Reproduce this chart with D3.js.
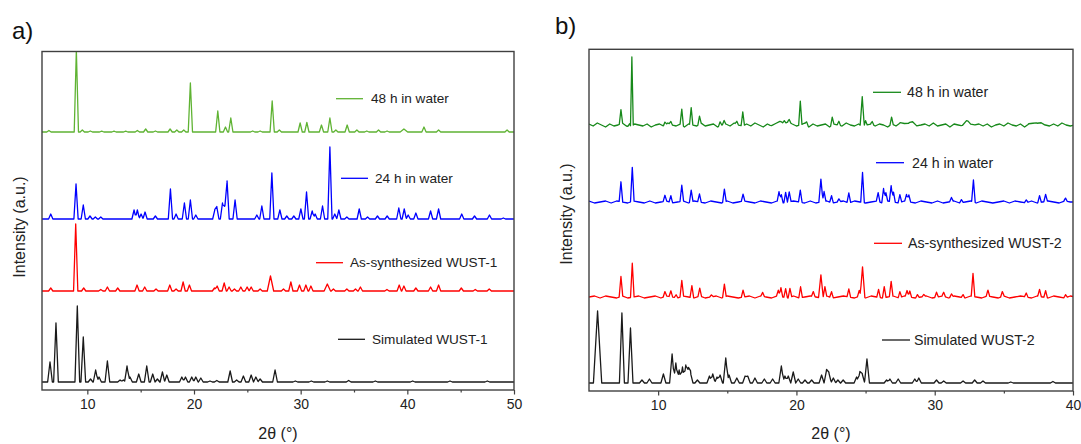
<!DOCTYPE html>
<html><head><meta charset="utf-8">
<script src="https://cdn.jsdelivr.net/npm/d3@7"></script>
<style>
html,body{margin:0;padding:0;background:#fff;}
svg{display:block;font-family:"Liberation Sans",Arial,Helvetica,sans-serif;}
</style></head><body>
<svg id="chart" width="1081" height="444"></svg>
<script>
// ---------------- data ----------------
const ticksA = [10, 20, 30, 40, 50];
const minorTicksA = [15, 25, 35, 45];
const ticksB = [10, 20, 30, 40];
const minorTicksB = [15, 25, 35];

const namesA = ["48 h in water", "24 h in water", "As-synthesized WUST-1", "Simulated WUST-1"];
const namesB = ["48 h in water", "24 h in water", "As-synthesized WUST-2", "Simulated WUST-2"];

// vertical stacking offset of each pattern (a.u.)
const offsetsA = [258, 171, 99, 8];
const offsetsB = [266, 189, 94, 8];

// reflections: [2θ, intensity, optional half-width in degrees]
const peaksA48 = [[6.4,1.5],[8.97,82],[9.53,2],[10.28,1],[11.35,0.8],[12.5,0.8],[13.6,0.8],[14.69,1.5],[15.47,3],[16.38,1],
  [17.76,3],[18.39,2],[19.04,2],[19.66,49],[22.23,21],[22.95,5],[23.45,14],[25.5,1],[26.2,1],[27.33,31],[28.0,2],
  [29.95,9],[30.58,9.5],[31.95,7],[32.74,14],[33.3,2],[34.36,7],[35.27,2],[36.2,1],[37.3,2],[38.1,1],[39.68,3,0.35],
  [41.56,5],[42.93,2],[49.35,2]];
const peaksA24 = [[6.57,5],[8.94,35],[9.62,14],[10.25,3],[10.75,2],[11.26,2],[14.38,9],[14.69,9],[15.04,5],[15.41,7],
  [16.38,3],[17.79,30],[18.32,5],[19.1,16],[19.66,19],[20.17,4],[21.95,9],[22.14,12],[22.67,16],[22.89,14],[23.1,38],
  [23.85,19],[25.89,4],[26.36,13],[27.3,46],[28.05,9],[28.7,3],[29.36,3],[30.02,10],[30.55,27],[31.08,8],[31.36,5],
  [32.05,13],[32.74,72],[33.2,5],[33.58,9],[34.33,2],[35.49,10],[36.27,2],[37.2,3],[38.11,3],[39.2,11],[39.71,10],
  [40.08,4],[40.8,6],[42.18,8],[42.93,10],[45.1,5],[46.3,3],[47.7,4],[49.0,1]];
const peaksA1 = [[6.57,3],[8.91,67],[9.66,3],[11.26,1.5],[11.88,4],[12.85,3],[14.66,6],[15.38,4],[16.44,2],[17.73,6],
  [18.32,2],[18.98,9],[19.57,6],[21.92,3],[22.17,5],[22.83,8],[23.29,4],[23.79,2],[24.39,4],[24.98,4],[25.36,4],
  [26.2,2],[27.17,15,0.3],[28.39,2],[29.08,9],[29.89,6],[30.49,6],[30.96,5],[32.5,7,0.3],[33.07,2],[34.33,2],[35.14,2],
  [35.6,4],[38.09,1.5],[39.24,6],[39.68,5],[40.8,3],[42.18,4],[42.93,6],[45.06,3],[46.37,1.5],[47.68,2]];
const peaksASim = [[6.5,20],[7.06,59],[9.06,76],[9.62,45],[10.3,3],[10.78,12],[11.1,5],[11.88,21],[13.07,2],[13.38,2],
  [13.72,16],[14.0,5],[14.82,8],[15.57,16],[16.13,8],[16.57,3],[17.04,10],[17.45,7],[18.86,5],[19.2,5],[19.79,5],
  [20.17,5],[20.64,4],[21.5,1],[22.14,1.5],[23.39,11],[24.0,2],[24.63,6],[25.36,7],[25.8,5],[26.2,3],[27.6,12],
  [29.5,1],[31.0,1],[32.5,1],[34.5,1.5],[37.0,1],[40.5,1],[44.0,1],[47.5,1]];

const peaksB48 = [[7.31,14],[7.93,3],[8.1,69,0.1],[10.49,3],[10.92,3],[11.71,16],[12.39,17],[12.99,8],[14.48,4],[14.77,4],
  [15.69,3],[16.12,14],[18.9,3,0.8],[19.12,3],[19.48,3],[20.28,24],[20.74,3],[22.59,8],[23.07,4],[24.76,30,0.15],[25.0,5],
  [25.48,3],[26.88,7],[28.2,3,0.8],[32.41,3,0.5],[37.35,3,0.6]];
const peaksB24 = [[7.31,20],[8.13,34],[10.49,6],[10.92,7],[11.71,16],[12.39,12],[12.99,8],[14.79,13],[16.14,7],
  [18.74,10],[18.91,8],[19.22,10],[19.48,10],[20.28,12],[21.77,23,0.15],[22.0,10],[22.54,7],[23.07,3],[23.79,10],
  [24.78,30],[25.91,9],[26.3,14],[26.47,9],[26.85,16],[27.02,10],[27.48,8],[27.96,7],[28.13,7],[31.21,4],[31.93,3],
  [32.8,22],[36.62,3],[37.58,7],[38.02,7],[39.46,3]];
const peaksB2 = [[7.31,20],[8.13,34],[10.49,5],[10.92,6],[11.3,3],[11.71,16],[12.44,12],[13.01,8],[13.85,2],[14.79,13],
  [16.14,7],[17.56,4],[18.69,6],[18.88,9],[19.22,9],[19.53,9],[20.3,11],[21.22,5],[21.77,23,0.17],[22.06,10],[22.54,6],
  [23.79,8],[24.54,6],[24.78,30,0.17],[25.94,8],[26.35,11],[26.85,15],[27.48,6],[28.0,6],[28.2,6],[28.75,3],[29.21,2],
  [30.13,5],[30.65,4],[31.21,3],[32.05,3],[32.77,23],[33.85,6],[34.89,5],[36.62,4],[37.58,7],[38.02,7],[39.46,3]];
const peaksBSim = [[5.62,72,0.3],[7.38,70],[8.0,55],[8.83,3],[9.37,4],[10.38,9],[11.01,29],[11.28,20],[11.52,13],
  [11.76,16],[12.0,18],[12.19,14],[12.34,10],[12.84,3],[13.71,7],[13.95,9],[14.26,6],[14.48,8],[14.89,25],[15.13,8],
  [15.69,5],[16.29,7],[16.48,7],[17.0,5],[17.68,4],[18.28,4],[18.91,17],[19.17,7],[19.41,7],[19.77,11],[20.13,4],
  [20.62,3],[21.1,3],[21.82,8],[22.18,13],[22.35,10],[22.67,5],[23.0,3],[23.38,3],[24.35,6],[24.59,11],[24.76,9],
  [25.1,24],[26.52,3],[26.76,4],[27.36,4],[28.56,4],[28.85,5],[30.13,3],[30.65,2],[32.05,2],[32.89,3],[33.49,2],
  [35.5,1],[38.55,1.5]];

// measured background scatter, regularly sampled from 5° (step in degrees)
const noiseStepB48 = 0.3;
const noiseB48 = [1,-1,2,0,-2,1,-1,0,2,-1, -2,1,0,-1,1,-2,0,1,-1,2, 0,-1,1,-2,1,0,-1,2,-1,0,
  1,-2,0,1,-1,2,0,-1,1,-1, 2,0,-2,1,-1,0,1,-1,2,1, -1,0,2,-2,1,-1,0,1,-2,1,
  0,-1,2,0,-1,1,-2,0,1,-1, 1,0,-2,1,-1,2,0,-1,1,-2, 0,1,-1,2,-1,0,1,-2,1,0,
  -1,2,-1,0,1,-1,1,-2,0,1, -1,2,0,-1,1,-2,1,0,-1,1, 0,-1,1,-1,2,0,-1];
const noiseStepB24 = 0.4;
const noiseB24 = [1,-1,0,1,-1,1,0,-1,1,0, -1,1,-1,0,1,-1,0,1,-1,1, 0,-1,1,0,-1,1,-1,0,1,0,
  -1,1,0,-1,1,-1,0,1,0,-1, 1,-1,0,1,-1,0,1,-1,1,0, -1,0,1,-1,1,0,-1,1,0,-1,
  1,0,-1,1,-1,0,1,-1,0,1, -1,1,0,-1,0,1,-1,1,0,-1, 1,-1,0,1,0,-1,1,0];
const noiseStepB2 = 0.4;
const noiseB2 = [0,1,-1,1,0,-1,1,-1,0,1, -1,0,1,-1,1,0,-1,1,0,-1, 1,-1,0,1,-1,1,0,-1,0,1,
  -1,1,0,-1,1,0,-1,1,-1,0, 1,0,-1,1,-1,0,1,0,-1,1, -1,1,0,-1,0,1,-1,1,0,-1,
  0,1,-1,0,1,-1,1,0,-1,1, 0,-1,1,0,-1,1,-1,0,1,0, -1,1,0,-1,1,0,-1,1];

// ---------------- layout ----------------
const colorsA = ["#5fb333", "#0000ff", "#ff0000", "#1a1a1a"];
const colorsB = ["#17891a", "#0000ff", "#ff0000", "#1a1a1a"];

const panels = [
  {
    tag: "a)", tagX: 12, tagY: 39,
    frame: {left: 42, right: 514, top: 51.5, bottom: 390},
    xDomain: [5.75, 50], yMax: 338.5,
    ticks: ticksA, minor: minorTicksA,
    yLabelX: 25, yLabelY: 227,
    names: namesA, colors: colorsA, offsets: offsetsA,
    halfWidths: [0.2, 0.2, 0.2, 0.22],
    peaks: [peaksA48, peaksA24, peaksA1, peaksASim],
    noise: [null, null, null, null],
    fontSize: 13.6,
    legend: [{x1: 336, x2: 363, y: 98.7, tx: 371}, {x1: 341, x2: 368, y: 178.3, tx: 375},
             {x1: 316, x2: 343, y: 262.7, tx: 350}, {x1: 338, x2: 365, y: 339.3, tx: 372}]
  },
  {
    tag: "b)", tagX: 555, tagY: 34,
    frame: {left: 589, right: 1073, top: 49.3, bottom: 391},
    xDomain: [5, 40], yMax: 341.7,
    ticks: ticksB, minor: minorTicksB,
    yLabelX: 572, yLabelY: 214,
    names: namesB, colors: colorsB, offsets: offsetsB,
    halfWidths: [0.12, 0.13, 0.13, 0.18],
    peaks: [peaksB48, peaksB24, peaksB2, peaksBSim],
    noise: [{vals: noiseB48, step: noiseStepB48}, {vals: noiseB24, step: noiseStepB24},
            {vals: noiseB2, step: noiseStepB2}, null],
    fontSize: 14.2,
    legend: [{x1: 873, x2: 901, y: 92.3, tx: 907}, {x1: 876, x2: 904, y: 162.7, tx: 912},
             {x1: 874, x2: 902, y: 243.3, tx: 908}, {x1: 882, x2: 910, y: 340, tx: 914}]
  }
];

const svg = d3.select("#chart");
svg.append("rect").attr("width", 1081).attr("height", 444).attr("fill", "#fff");

// Pattern vertices: every reflection's foot and apex plus the background samples.
// Each reflection is a narrow triangular profile; overlapping ones add up.
function pattern(peaks, hw, noise, domain, offset) {
  const shapes = peaks.map(p => ({c: p[0], h: p[1], w: p[2] || hw}));
  if (noise) noise.vals.forEach((v, i) => shapes.push({c: domain[0] + i * noise.step, h: v, w: noise.step}));
  const xs = new Set(domain);
  shapes.forEach(s => { xs.add(s.c - s.w); xs.add(s.c); xs.add(s.c + s.w); });
  return [...xs].filter(x => x >= domain[0] && x <= domain[1]).sort((a, b) => a - b)
    .map(x => [x, offset + d3.sum(shapes, s => Math.max(0, 1 - Math.abs(x - s.c) / s.w) * s.h)]);
}

panels.forEach((p, pi) => {
  const f = p.frame;
  const x = d3.scaleLinear().domain(p.xDomain).range([f.left, f.right]);
  const y = d3.scaleLinear().domain([0, p.yMax]).range([f.bottom, f.top]);
  const g = svg.append("g");

  const clipId = "clip" + pi;
  svg.append("clipPath").attr("id", clipId).append("rect")
    .attr("x", f.left).attr("y", f.top).attr("width", f.right - f.left).attr("height", f.bottom - f.top);

  const line = d3.line().x(d => x(d[0])).y(d => y(d[1]));
  p.peaks.forEach((pk, i) => {
    g.append("path")
      .attr("d", line(pattern(pk, p.halfWidths[i], p.noise[i], p.xDomain, p.offsets[i])))
      .attr("fill", "none").attr("stroke", p.colors[i]).attr("stroke-width", 1.3)
      .attr("stroke-linejoin", "round").attr("clip-path", `url(#${clipId})`);
  });

  // bottom axis: labelled major ticks and short minor ticks
  const ax = g.append("g").attr("transform", `translate(0,${f.bottom})`)
    .call(d3.axisBottom(x).tickValues(p.ticks).tickSize(4.5).tickSizeOuter(0).tickPadding(5).tickFormat(d3.format("d")));
  ax.select(".domain").remove();
  ax.selectAll(".tick line").attr("stroke", "#404040").attr("stroke-width", 1.2);
  ax.selectAll(".tick text").attr("font-size", 14).attr("fill", "#222")
    .attr("font-family", '"Liberation Sans",Arial,sans-serif');
  const mx = g.append("g").attr("transform", `translate(0,${f.bottom})`)
    .call(d3.axisBottom(x).tickValues(p.minor).tickSize(2.5).tickSizeOuter(0).tickFormat(""));
  mx.select(".domain").remove();
  mx.selectAll(".tick line").attr("stroke", "#404040").attr("stroke-width", 1.2);

  // frame
  g.append("rect").attr("x", f.left).attr("y", f.top)
    .attr("width", f.right - f.left).attr("height", f.bottom - f.top)
    .attr("fill", "none").attr("stroke", "#404040").attr("stroke-width", 1.4);

  // axis titles
  g.append("text").attr("x", (f.left + f.right) / 2).attr("y", 439)
    .attr("text-anchor", "middle").attr("font-size", 16).attr("fill", "#222").text("2θ (°)");
  g.append("text").attr("transform", `translate(${p.yLabelX},${p.yLabelY}) rotate(-90)`)
    .attr("text-anchor", "middle").attr("font-size", 16).attr("fill", "#222").text("Intensity (a.u.)");

  // panel tag
  g.append("text").attr("x", p.tagX).attr("y", p.tagY).attr("font-size", 24).attr("fill", "#111").text(p.tag);

  // legend entries
  p.legend.forEach((l, i) => {
    g.append("line").attr("x1", l.x1).attr("x2", l.x2).attr("y1", l.y).attr("y2", l.y)
      .attr("stroke", p.colors[i]).attr("stroke-width", 1.3);
    g.append("text").attr("x", l.tx).attr("y", l.y).attr("dy", "0.35em")
      .attr("font-size", p.fontSize).attr("fill", "#222").text(p.names[i]);
  });
});
</script>
</body></html>
